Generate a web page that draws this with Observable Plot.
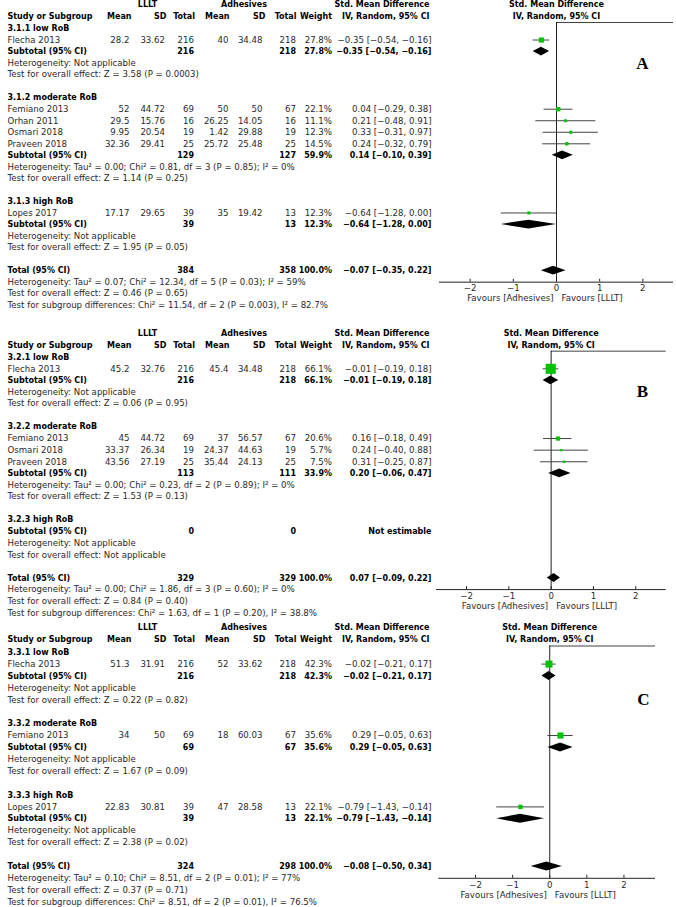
<!DOCTYPE html>
<html><head><meta charset="utf-8">
<script src="https://cdn.jsdelivr.net/npm/d3@7"></script>
<script src="https://cdn.jsdelivr.net/npm/@observablehq/plot@0.6"></script>
<style>
body{margin:0;background:#fff;}
#chart svg{display:block;}
</style></head><body><div id="chart"></div>
<script>
// ---------------- Shared labels ----------------
const headerTop = ["LLLT", "Adhesives", "Std. Mean Difference"];
const headerCols = ["Study or Subgroup", "Mean", "SD", "Total", "Mean", "SD", "Total", "Weight", "IV, Random, 95% CI"];
const xTicks = [-2, -1, 0, 1, 2];
const favours = ["Favours [Adhesives]", "Favours [LLLT]"];
const panelLetters = ["A", "B", "C"];

// ---------------- Panel A ----------------
const aStudy = ["Flecha 2013", "Femiano 2013", "Orhan 2011", "Osmari 2018", "Praveen 2018", "Lopes 2017"];
const aStudyGroup = [0, 1, 1, 1, 1, 2];
const aLlltMean = [28.2, 52, 29.5, 9.95, 32.36, 17.17];
const aLlltSD = [33.62, 44.72, 15.76, 20.54, 29.41, 29.65];
const aLlltN = [216, 69, 16, 19, 25, 39];
const aAdhMean = [40, 50, 26.25, 1.42, 25.72, 35];
const aAdhSD = [34.48, 50, 14.05, 29.88, 25.48, 19.42];
const aAdhN = [218, 67, 16, 19, 25, 13];
const aWeight = [27.8, 22.1, 11.1, 12.3, 14.5, 12.3];
const aSmd = [-0.35, 0.04, 0.21, 0.33, 0.24, -0.64];
const aLow = [-0.54, -0.29, -0.48, -0.31, -0.32, -1.28];
const aHigh = [-0.16, 0.38, 0.91, 0.97, 0.79, 0.00];
const aGroups = ["3.1.1 low RoB", "3.1.2 moderate RoB", "3.1.3 high RoB"];
const aGroupLlltN = [216, 129, 39];
const aGroupAdhN = [218, 127, 13];
const aGroupWeight = [27.8, 59.9, 12.3];
const aGroupSmd = [-0.35, 0.14, -0.64];
const aGroupLow = [-0.54, -0.10, -1.28];
const aGroupHigh = [-0.16, 0.39, 0.00];
const aGroupHet = ["Heterogeneity: Not applicable", "Heterogeneity: Tau² = 0.00; Chi² = 0.81, df = 3 (P = 0.85); I² = 0%", "Heterogeneity: Not applicable"];
const aGroupTest = ["Test for overall effect: Z = 3.58 (P = 0.0003)", "Test for overall effect: Z = 1.14 (P = 0.25)", "Test for overall effect: Z = 1.95 (P = 0.05)"];
const aTotalN = [384, 358];
const aTotalEst = [-0.07, -0.35, 0.22];
const aTotalText = ["Heterogeneity: Tau² = 0.07; Chi² = 12.34, df = 5 (P = 0.03); I² = 59%", "Test for overall effect: Z = 0.46 (P = 0.65)", "Test for subgroup differences: Chi² = 11.54, df = 2 (P = 0.003), I² = 82.7%"];

// ---------------- Panel B ----------------
const bStudy = ["Flecha 2013", "Femiano 2013", "Osmari 2018", "Praveen 2018"];
const bStudyGroup = [0, 1, 1, 1];
const bLlltMean = [45.2, 45, 33.37, 43.56];
const bLlltSD = [32.76, 44.72, 26.34, 27.19];
const bLlltN = [216, 69, 19, 25];
const bAdhMean = [45.4, 37, 24.37, 35.44];
const bAdhSD = [34.48, 56.57, 44.63, 24.13];
const bAdhN = [218, 67, 19, 25];
const bWeight = [66.1, 20.6, 5.7, 7.5];
const bSmd = [-0.01, 0.16, 0.24, 0.31];
const bLow = [-0.19, -0.18, -0.40, -0.25];
const bHigh = [0.18, 0.49, 0.88, 0.87];
const bGroups = ["3.2.1 low RoB", "3.2.2 moderate RoB", "3.2.3 high RoB"];
const bGroupLlltN = [216, 113, 0];
const bGroupAdhN = [218, 111, 0];
const bGroupWeight = [66.1, 33.9, null];
const bGroupSmd = [-0.01, 0.20, null];
const bGroupLow = [-0.19, -0.06, null];
const bGroupHigh = [0.18, 0.47, null];
const bGroupHet = ["Heterogeneity: Not applicable", "Heterogeneity: Tau² = 0.00; Chi² = 0.23, df = 2 (P = 0.89); I² = 0%", "Heterogeneity: Not applicable"];
const bGroupTest = ["Test for overall effect: Z = 0.06 (P = 0.95)", "Test for overall effect: Z = 1.53 (P = 0.13)", "Test for overall effect: Not applicable"];
const bTotalN = [329, 329];
const bTotalEst = [0.07, -0.09, 0.22];
const bTotalText = ["Heterogeneity: Tau² = 0.00; Chi² = 1.86, df = 3 (P = 0.60); I² = 0%", "Test for overall effect: Z = 0.84 (P = 0.40)", "Test for subgroup differences: Chi² = 1.63, df = 1 (P = 0.20), I² = 38.8%"];

// ---------------- Panel C ----------------
const cStudy = ["Flecha 2013", "Femiano 2013", "Lopes 2017"];
const cStudyGroup = [0, 1, 2];
const cLlltMean = [51.3, 34, 22.83];
const cLlltSD = [31.91, 50, 30.81];
const cLlltN = [216, 69, 39];
const cAdhMean = [52, 18, 47];
const cAdhSD = [33.62, 60.03, 28.58];
const cAdhN = [218, 67, 13];
const cWeight = [42.3, 35.6, 22.1];
const cSmd = [-0.02, 0.29, -0.79];
const cLow = [-0.21, -0.05, -1.43];
const cHigh = [0.17, 0.63, -0.14];
const cGroups = ["3.3.1 low RoB", "3.3.2 moderate RoB", "3.3.3 high RoB"];
const cGroupLlltN = [216, 69, 39];
const cGroupAdhN = [218, 67, 13];
const cGroupWeight = [42.3, 35.6, 22.1];
const cGroupSmd = [-0.02, 0.29, -0.79];
const cGroupLow = [-0.21, -0.05, -1.43];
const cGroupHigh = [0.17, 0.63, -0.14];
const cGroupHet = ["Heterogeneity: Not applicable", "Heterogeneity: Not applicable", "Heterogeneity: Not applicable"];
const cGroupTest = ["Test for overall effect: Z = 0.22 (P = 0.82)", "Test for overall effect: Z = 1.67 (P = 0.09)", "Test for overall effect: Z = 2.38 (P = 0.02)"];
const cTotalN = [324, 298];
const cTotalEst = [-0.08, -0.50, 0.34];
const cTotalText = ["Heterogeneity: Tau² = 0.10; Chi² = 8.51, df = 2 (P = 0.01); I² = 77%", "Test for overall effect: Z = 0.37 (P = 0.71)", "Test for subgroup differences: Chi² = 8.51, df = 2 (P = 0.01), I² = 76.5%"];

// ---------------- Helpers ----------------
const FONT = "'DejaVu Sans', sans-serif";
const FS = 8.6;      // regular text
const FSB = 8.0;     // bold text
const minus = s => s.replace(/-/g, "\u2212");
const f2 = v => minus(v.toFixed(2));
const ci = (e, l, h) => `${f2(e)} [${f2(l)}, ${f2(h)}]`;
const pct = w => w.toFixed(1) + "%";
// value columns (right edges, px) and header columns
const COL = {label: 7, m1: 129, sd1: 164.5, n1: 193.5, m2: 228, sd2: 262, n2: 295.5, w: 331.5, ci: 431};
const HCOL = [7, 131, 166, 194.5, 229, 265, 296, 331.5, 429];
const squareSide = w => 1.5 + 0.13 * w;

function panel(d, L) {
  const texts = [], studies = [], diamonds = [];
  const T = (row, px, t, bold = false, anchor = "end") => texts.push({row, px, t, bold, anchor});
  let r = 0;
  const addDiamond = (row, e, l, h, id) => {
    const hh = 0.38;
    diamonds.push({id, x: l, y1: row, y2: row});
    diamonds.push({id, x: e, y1: row - hh, y2: row + hh});
    diamonds.push({id, x: h, y1: row, y2: row});
  };
  d.groups.forEach((g, gi) => {
    T(r, COL.label, g, true, "start"); r++;
    d.study.forEach((s, i) => {
      if (d.studyGroup[i] !== gi) return;
      T(r, COL.label, s, false, "start");
      T(r, COL.m1, String(d.m1[i])); T(r, COL.sd1, String(d.sd1[i])); T(r, COL.n1, String(d.n1[i]));
      T(r, COL.m2, String(d.m2[i])); T(r, COL.sd2, String(d.sd2[i])); T(r, COL.n2, String(d.n2[i]));
      T(r, COL.w, pct(d.w[i]));
      T(r, COL.ci, ci(d.smd[i], d.lo[i], d.hi[i]));
      studies.push({row: r, est: d.smd[i], lo: d.lo[i], hi: d.hi[i], w: d.w[i]});
      r++;
    });
    T(r, COL.label, "Subtotal (95% CI)", true, "start");
    T(r, COL.n1, String(d.gN1[gi]), true); T(r, COL.n2, String(d.gN2[gi]), true);
    if (d.gW[gi] != null) {
      T(r, COL.w, pct(d.gW[gi]), true);
      T(r, COL.ci, ci(d.gSmd[gi], d.gLo[gi], d.gHi[gi]), true);
      addDiamond(r, d.gSmd[gi], d.gLo[gi], d.gHi[gi], "g" + gi);
    } else {
      T(r, COL.ci, "Not estimable", true);
    }
    r++;
    T(r, COL.label, d.gHet[gi], false, "start"); r++;
    T(r, COL.label, d.gTest[gi], false, "start"); r++;
    r++;
  });
  const totalRow = r;
  T(r, COL.label, "Total (95% CI)", true, "start");
  T(r, COL.n1, String(d.tN[0]), true); T(r, COL.n2, String(d.tN[1]), true);
  T(r, COL.w, "100.0%", true);
  T(r, COL.ci, ci(d.tEst[0], d.tEst[1], d.tEst[2]), true);
  addDiamond(r, d.tEst[0], d.tEst[1], d.tEst[2], "total");
  r++;
  d.tText.forEach(t => { T(r, COL.label, t, false, "start"); r++; });
  const lastRow = r - 1;
  const axisRow = totalRow + 1;
  const hdr1 = -2.05, hdr2 = -1.05, ruleRow = -0.52;

  // header texts
  T(hdr1, 147, headerTop[0], true, "middle");
  T(hdr1, 243.5, headerTop[1], true, "middle");
  T(hdr1, HCOL[8], headerTop[2], true, "end");
  headerCols.forEach((h, i) => T(hdr2, HCOL[i], h, true, i === 0 ? "start" : "end"));

  // group text by column/anchor/weight
  const groupsMap = d3.group(texts, t => `${t.px}|${t.anchor}|${t.bold}`);
  const textMarks = [];
  for (const [k, items] of groupsMap) {
    const it = items[0];
    textMarks.push(Plot.text(items, {
      y: "row", text: "t", frameAnchor: "left", dx: it.px, textAnchor: it.anchor,
      fontWeight: it.bold ? "bold" : "normal", fontSize: it.bold ? FSB : FS, fontFamily: FONT,
      fill: it.bold ? "#000" : "#2a2a2a"
    }));
  }

  return Plot.plot({
    width: 676, height: L.height,
    marginTop: 0, marginRight: 0, marginBottom: 0, marginLeft: 0,
    x: {domain: L.xDomain, range: L.xRange, axis: null},
    y: {domain: [0, lastRow], range: [L.row0, L.row0 + lastRow * L.step], axis: null},
    r: {type: "identity"},
    style: {fontFamily: FONT, background: "#fff", overflow: "visible"},
    marks: [
      // header rule
      Plot.ruleY([ruleRow], {x2: L.xDomain[1], stroke: "#444", strokeWidth: 1}),
      // zero line
      Plot.ruleX([0], {y1: ruleRow, y2: axisRow, stroke: "#222", strokeWidth: 1}),
      // axis line + ticks
      Plot.ruleY([axisRow], {x1: L.xDomain[0], x2: L.xDomain[1], stroke: "#222", strokeWidth: 1}),
      Plot.ruleX(xTicks, {x: t => t, y1: axisRow - 0.25, y2: axisRow, stroke: "#222"}),
      Plot.text(xTicks, {x: t => t, y: axisRow, dy: 6.5, text: t => minus(String(t)), fontSize: FS, fontFamily: FONT, fill: "#2a2a2a"}),
      Plot.text([favours[0]], {x: 0, y: axisRow, dy: 16.5, dx: -3, text: t => t, textAnchor: "end", fontSize: FS, fontFamily: FONT, fill: "#2a2a2a"}),
      Plot.text([favours[1]], {x: 0, y: axisRow, dy: 16.5, dx: 5, text: t => t, textAnchor: "start", fontSize: FS, fontFamily: FONT, fill: "#2a2a2a"}),
      // forest header
      Plot.text([headerTop[2]], {x: 0, y: hdr1, text: t => t, fontWeight: "bold", fontSize: FSB, fontFamily: FONT, fill: "#000"}),
      Plot.text([headerCols[8]], {x: 0, y: hdr2, text: t => t, fontWeight: "bold", fontSize: FSB, fontFamily: FONT, fill: "#000"}),
      // CIs and squares
      Plot.ruleY(studies, {y: "row", x1: "lo", x2: "hi", stroke: "#444", strokeWidth: 1}),
      Plot.dot(studies, {x: "est", y: "row", symbol: "square", r: s => squareSide(s.w) / Math.sqrt(Math.PI), fill: "#00c400", stroke: "none"}),
      // diamonds
      Plot.areaY(diamonds, {x: "x", y1: "y1", y2: "y2", z: "id", fill: "#000", curve: "linear"}),
      // panel letter
      Plot.text([L.letter], {frameAnchor: "left", dx: L.letterX, y: L.letterRow, text: t => t, textAnchor: "middle", fontFamily: "'Liberation Serif', 'Times New Roman', serif", fontWeight: "bold", fontSize: 17, fill: "#000"}),
      ...textMarks
    ]
  });
}

const chart = document.getElementById("chart");
chart.append(panel({
  study: aStudy, studyGroup: aStudyGroup, m1: aLlltMean, sd1: aLlltSD, n1: aLlltN, m2: aAdhMean, sd2: aAdhSD, n2: aAdhN,
  w: aWeight, smd: aSmd, lo: aLow, hi: aHigh, groups: aGroups, gN1: aGroupLlltN, gN2: aGroupAdhN, gW: aGroupWeight,
  gSmd: aGroupSmd, gLo: aGroupLow, gHi: aGroupHigh, gHet: aGroupHet, gTest: aGroupTest, tN: aTotalN, tEst: aTotalEst, tText: aTotalText
}, {height: 312, row0: 28, step: 11.53, xDomain: [-2.71, 2.71], xRange: [439, 673], letter: panelLetters[0], letterX: 642, letterRow: 3.04}));

chart.append(panel({
  study: bStudy, studyGroup: bStudyGroup, m1: bLlltMean, sd1: bLlltSD, n1: bLlltN, m2: bAdhMean, sd2: bAdhSD, n2: bAdhN,
  w: bWeight, smd: bSmd, lo: bLow, hi: bHigh, groups: bGroups, gN1: bGroupLlltN, gN2: bGroupAdhN, gW: bGroupWeight,
  gSmd: bGroupSmd, gLo: bGroupLow, gHi: bGroupHigh, gHet: bGroupHet, gTest: bGroupTest, tN: bTotalN, tEst: bTotalEst, tText: bTotalText
}, {height: 308, row0: 44.7, step: 11.62, xDomain: [-2.71, 2.72], xRange: [436, 665.7], letter: panelLetters[1], letterX: 642, letterRow: 2.93}));

chart.append(panel({
  study: cStudy, studyGroup: cStudyGroup, m1: cLlltMean, sd1: cLlltSD, n1: cLlltN, m2: cAdhMean, sd2: cAdhSD, n2: cAdhN,
  w: cWeight, smd: cSmd, lo: cLow, hi: cHigh, groups: cGroups, gN1: cGroupLlltN, gN2: cGroupAdhN, gW: cGroupWeight,
  gSmd: cGroupSmd, gLo: cGroupLow, gHi: cGroupHigh, gHet: cGroupHet, gTest: cGroupTest, tN: cTotalN, tEst: cTotalEst, tText: cTotalText
}, {height: 287, row0: 31.7, step: 11.9, xDomain: [-2.99, 2.85], xRange: [438.3, 655], letter: panelLetters[2], letterX: 643, letterRow: 3.97}));
</script></body></html>
